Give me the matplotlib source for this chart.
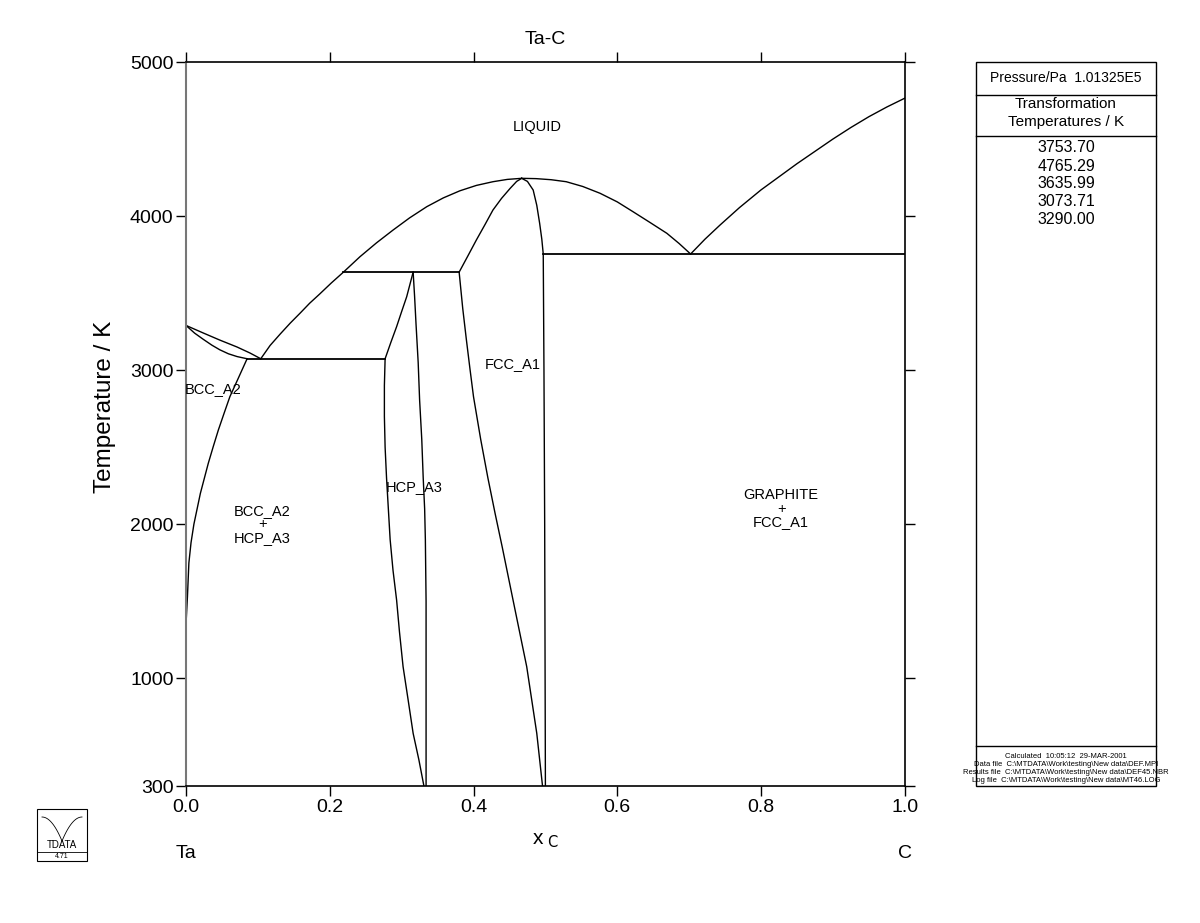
import matplotlib
matplotlib.use("Agg")
import matplotlib.pyplot as plt
import numpy as np
from matplotlib.patches import Rectangle

plt.rcParams['font.family'] = ['Liberation Sans', 'DejaVu Sans']

# ---- data (x_C, T/K) ----
liq_ta_x = [0.0, 0.024, 0.047, 0.071, 0.089, 0.104]
liq_ta_T = [3290, 3241, 3195, 3150, 3111, 3073.71]
sol_bcc_x = [0.0, 0.012, 0.024, 0.036, 0.047, 0.059, 0.071, 0.085]
sol_bcc_T = [3290, 3240, 3200, 3162, 3132, 3106, 3088, 3073.71]
bcc_solvus_x = [0.085, 0.073, 0.061, 0.053, 0.045, 0.038, 0.031, 0.020, 0.011, 0.007, 0.004, 0.002, 0.0]
bcc_solvus_T = [3073.71, 2950, 2827, 2720, 2611, 2505, 2395, 2200, 2000, 1880, 1748, 1529, 1350]
liq_mid_x = [0.104, 0.117, 0.131, 0.145, 0.159, 0.172, 0.186, 0.202, 0.219, 0.242, 0.265, 0.288,
             0.311, 0.335, 0.358, 0.381, 0.404, 0.427, 0.447, 0.467]
liq_mid_T = [3073.71, 3160, 3234, 3305, 3371, 3434, 3494, 3565, 3635.99, 3736, 3826, 3909,
             3988, 4061, 4118, 4164, 4199, 4223, 4238, 4245]
liq_right_x = [0.467, 0.487, 0.508, 0.529, 0.552, 0.576, 0.600, 0.622, 0.645, 0.669, 0.686, 0.702]
liq_right_T = [4245, 4243, 4236, 4223, 4192, 4148, 4092, 4028, 3960, 3888, 3822, 3753.70]
liq_gr_x = [0.702, 0.722, 0.743, 0.77, 0.80, 0.825, 0.85, 0.875, 0.90, 0.925, 0.95, 0.975, 1.0]
liq_gr_T = [3753.70, 3850, 3942, 4055, 4170, 4255, 4340, 4420, 4500, 4575, 4645, 4708, 4765.29]
fcc_sol_x = [0.380, 0.392, 0.404, 0.416, 0.427, 0.439, 0.451, 0.460, 0.467]
fcc_sol_T = [3635.99, 3740, 3845, 3945, 4039, 4115, 4180, 4225, 4245]
fcc_right_x = [0.467, 0.475, 0.483, 0.488, 0.492, 0.495, 0.497, 0.498, 0.499, 0.500]
fcc_right_T = [4245, 4225, 4169, 4070, 3953, 3850, 3753.70, 3000, 2000, 300]
fcc_left_x = [0.380, 0.385, 0.390, 0.395, 0.400, 0.410, 0.420, 0.430, 0.440, 0.455, 0.474, 0.488, 0.496]
fcc_left_T = [3635.99, 3400, 3200, 3010, 2827, 2550, 2300, 2070, 1850, 1507, 1075, 642, 300]
hcp_left_hi_x = [0.277, 0.285, 0.293, 0.300, 0.307, 0.316]
hcp_left_hi_T = [3073.71, 3180, 3282, 3380, 3476, 3635.99]
hcp_left_lo_x = [0.277, 0.276, 0.276, 0.277, 0.279, 0.284, 0.288, 0.293, 0.297, 0.302, 0.309, 0.316, 0.324, 0.331]
hcp_left_lo_T = [3073.71, 2900, 2700, 2500, 2300, 1900, 1700, 1507, 1300, 1075, 860, 642, 470, 300]
hcp_right_x = [0.316, 0.318, 0.320, 0.323, 0.325, 0.328, 0.330, 0.332, 0.333, 0.334, 0.334]
hcp_right_T = [3635.99, 3480, 3300, 3050, 2806, 2550, 2300, 2100, 1900, 1500, 300]
tie_lines = [(0.085, 0.277, 3073.71), (0.219, 0.380, 3635.99), (0.497, 1.0, 3753.70)]

labels = [("LIQUID", 0.488, 4580), ("BCC_A2", 0.038, 2880), ("FCC_A1", 0.455, 3040),
          ("HCP_A3", 0.317, 2240), ("BCC_A2\n+\nHCP_A3", 0.106, 2000),
          ("GRAPHITE\n+\nFCC_A1", 0.828, 2100)]
trans_temps = ["3753.70", "4765.29", "3635.99", "3073.71", "3290.00"]
x_ticks = [0.0, 0.2, 0.4, 0.6, 0.8, 1.0]
y_ticks = [300, 1000, 2000, 3000, 4000, 5000]

fig = plt.figure(figsize=(12, 9.23), dpi=100)
ax = fig.add_axes([0.155, 0.1484, 0.599, 0.7844])
lw = 1.0
curves = [(liq_ta_x, liq_ta_T), (sol_bcc_x, sol_bcc_T), (bcc_solvus_x, bcc_solvus_T),
          (liq_mid_x, liq_mid_T), (liq_right_x, liq_right_T), (liq_gr_x, liq_gr_T),
          (fcc_sol_x, fcc_sol_T), (fcc_right_x, fcc_right_T), (fcc_left_x, fcc_left_T),
          (hcp_left_hi_x, hcp_left_hi_T), (hcp_left_lo_x, hcp_left_lo_T), (hcp_right_x, hcp_right_T)]
for xs, ts in curves:
    ax.plot(xs, ts, color='black', lw=lw, solid_joinstyle='round')
for x0, x1, t in tie_lines:
    ax.plot([x0, x1], [t, t], color='black', lw=1.3)

for txt, x, t in labels:
    ax.text(x, t, txt, ha='center', va='center', fontsize=10.5, linespacing=0.95)

ax.set_xlim(0, 1)
ax.set_ylim(300, 5000)
ax.set_xticks(x_ticks)
ax.set_xticklabels(["0.0", "0.2", "0.4", "0.6", "0.8", "1.0"])
ax.set_yticks(y_ticks)
ax.set_yticklabels([str(v) for v in y_ticks])
ax.tick_params(axis='both', direction='out', length=7, width=1, labelsize=14,
               top=True, right=True, labeltop=False, labelright=False, pad=2)
for s in ax.spines.values():
    s.set_linewidth(1.2)
ax.spines['left'].set_color('#777777')
ax.spines['left'].set_linewidth(1.5)
ax.set_title("Ta-C", fontsize=14, pad=13)

W, H = 1200.0, 923.0
def fx(p): return p / W
def fy(p): return 1 - p / H

fig.text(fx(105), fy(407), "Temperature / K", rotation=90, ha='center', va='center', fontsize=17.5)
fig.text(fx(545), fy(840), r"x$_{\ \mathrm{C}}$", ha='center', va='center', fontsize=15)
fig.text(fx(186), fy(853), "Ta", ha='center', va='center', fontsize=14)
fig.text(fx(905), fy(853), "C", ha='center', va='center', fontsize=14)

# side panel
fig.patches.append(Rectangle((fx(976), fy(786)), fx(1156) - fx(976), fy(62) - fy(786),
                             fill=False, lw=1.0, color='black', transform=fig.transFigure))
for yy in [95, 136, 746]:
    fig.add_artist(plt.Line2D([fx(976), fx(1156)], [fy(yy), fy(yy)], color='black', lw=1.0,
                              transform=fig.transFigure))
cx = fx(1066)
fig.text(cx, fy(78), "Pressure/Pa  1.01325E5", ha='center', va='center', fontsize=10)
fig.text(cx, fy(104), "Transformation", ha='center', va='center', fontsize=11)
fig.text(cx, fy(122), "Temperatures / K", ha='center', va='center', fontsize=11)
for i, v in enumerate(trans_temps):
    fig.text(cx, fy(148 + i * 18), v, ha='center', va='center', fontsize=11.5)
footer = ["Calculated  10:05:12  29-MAR-2001",
          "Data file  C:\\MTDATA\\Work\\testing\\New data\\DEF.MPI",
          "Results file  C:\\MTDATA\\Work\\testing\\New data\\DEF45.NBR",
          "Log file  C:\\MTDATA\\Work\\testing\\New data\\MT46.LOG"]
for i, t in enumerate(footer):
    fig.text(cx, fy(756 + i * 8), t, ha='center', va='center', fontsize=5.5)

# logo
fig.patches.append(Rectangle((fx(37), fy(861)), fx(87) - fx(37), fy(809) - fy(861),
                             fill=False, lw=0.8, color='black', transform=fig.transFigure))
fig.add_artist(plt.Line2D([fx(37), fx(87)], [fy(852), fy(852)], color='black', lw=0.6,
                          transform=fig.transFigure))
tt = np.linspace(0, 1, 20)
fig.add_artist(plt.Line2D(fx(42 + 20 * tt), fy(817 + 24 * tt ** 2), color='black', lw=0.6,
                          transform=fig.transFigure))
fig.add_artist(plt.Line2D(fx(62 + 20 * tt), fy(841 - 24 * (1 - (1 - tt) ** 2)), color='black', lw=0.6,
                          transform=fig.transFigure))
fig.text(fx(62), fy(845), "TDATA", ha='center', va='center', fontsize=7)
fig.text(fx(62), fy(857), "4.71", ha='center', va='center', fontsize=5)

fig.savefig("out.png", dpi=100)
